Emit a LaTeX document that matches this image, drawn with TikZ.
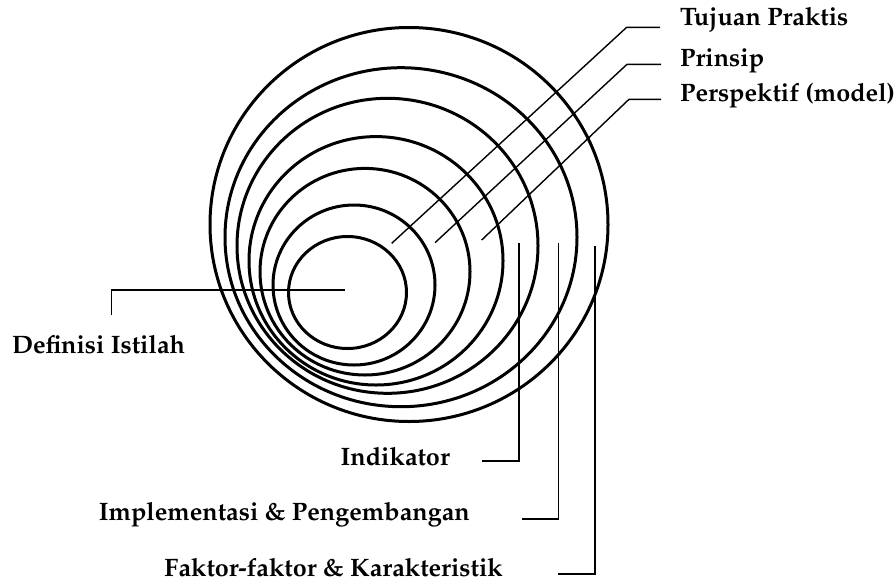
\documentclass[tikz,border=0pt]{standalone}
\usepackage[T1]{fontenc}
\usepackage{palatino}
\usetikzlibrary{calc}
\tikzset{
	ring/.style={line width=3pt},
	leader/.style={line width=1.4pt},
	lbl/.style={font=\bfseries\fontsize{25.2}{29}\selectfont, inner sep=0pt},
}

\begin{document}
\begin{tikzpicture}[x=1pt,y=-1pt]
		%%%%% START %%%%%
		\useasboundingbox (0,0) rectangle (896,584);
		
		\draw[ring] (347.5,292.5) ellipse [x radius=59pt, y radius=56pt];
		\draw[ring] (354,285) ellipse [x radius=81pt, y radius=80pt];
		\draw[ring] (365,271.7) ellipse [x radius=105pt, y radius=103.3pt];
		\draw[ring] (376,260.8) ellipse [x radius=127pt, y radius=124.2pt];
		\draw[ring] (387.5,245.8) ellipse [x radius=150.5pt, y radius=147.5pt];
		\draw[ring] (401,237.2) ellipse [x radius=176pt, y radius=169.5pt];
		\draw[ring] (409,224.5) ellipse [x radius=199pt, y radius=197pt];
		
		% labels
		\node[lbl, anchor=base west] (tujuan) at (680,25.7) {Tujuan Praktis};
		\node[lbl, anchor=base west] (prinsip) at (680,66.7) {Prinsip};
		\node[lbl, anchor=base west] (perspektif) at (680,101) {Perspektif (model)};
		\node[lbl, anchor=base west] (definisi) at (12,353.3) {Definisi Istilah};
		\node[lbl, anchor=base east] (indikator) at (450,465) {Indikator};
		\node[lbl, anchor=base east] (implementasi) at (470,520) {Implementasi \& Pengembangan};
		\node[lbl, anchor=base east] (faktor) at (503,576.7) {Faktor-faktor \& Karakteristik};
		
		\coordinate (tujuanEnd) at (391.7,243.3);
		\coordinate (tujuanK) at (626.7,27.3);
		\coordinate (prinsipEnd) at (435,242.7);
		\coordinate (prinsipK) at (627,64.3);
		\coordinate (perspektifEnd) at (481.7,240);
		\coordinate (perspektifK) at (629,99.3);
		\coordinate (definisiEnd) at (345,290);
		\coordinate (indikatorEnd) at (519,242.7);
		\coordinate (implementasiEnd) at (558.3,242.7);
		\coordinate (faktorEnd) at (595,246);
		
		% leaders
		\draw[leader] (tujuanEnd) -- (tujuanK) -- ($(tujuanK -| tujuan.west)+(-20,0)$);
		\draw[leader] (prinsipEnd) -- (prinsipK) -- ($(prinsipK -| prinsip.west)+(-19,0)$);
		\draw[leader] (perspektifEnd) -- (perspektifK) -- ($(perspektifK -| perspektif.west)+(-19,0)$);
		\draw[leader] (definisiEnd) -| ($(definisi.north west)+(99.7,-19.5)$);
		\draw[leader] (indikatorEnd) |- ($(indikator.base east)+(31.7,-4)$);
		\draw[leader] (implementasiEnd) |- ($(implementasi.base east)+(51.7,-1)$);
		\draw[leader] (faktorEnd) |- ($(faktor.base east)+(55.3,-2.7)$);
		
		%%%%% END %%%%%
\end{tikzpicture}
\end{document}
